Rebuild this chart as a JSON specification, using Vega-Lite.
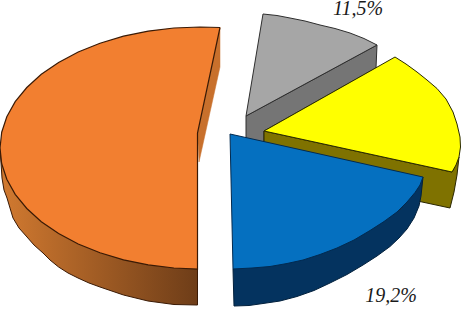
{"$schema":"https://vega.github.io/schema/vega-lite/v6.json","width":461,"height":309,"padding":0,"autosize":{"type":"none"},"background":"white","view":{"stroke":null},
"datasets":{"shapes":[
{"p":"graySide","i":0,"x":246,"y":116},{"p":"graySide","i":1,"x":377,"y":45},{"p":"graySide","i":2,"x":376,"y":68},{"p":"graySide","i":3,"x":264,"y":131},{"p":"graySide","i":4,"x":264,"y":145},{"p":"graySide","i":5,"x":246,"y":140},{"p":"graySide","i":6,"x":246,"y":116},
{"p":"grayTop","i":0,"x":246,"y":116},{"p":"grayTop","i":1,"x":263,"y":14},{"p":"grayTop","i":2,"x":277,"y":15.5},{"p":"grayTop","i":3,"x":290,"y":18},{"p":"grayTop","i":4,"x":305,"y":21},{"p":"grayTop","i":5,"x":320,"y":25},{"p":"grayTop","i":6,"x":335,"y":28.5},{"p":"grayTop","i":7,"x":350,"y":33},{"p":"grayTop","i":8,"x":364,"y":38.5},{"p":"grayTop","i":9,"x":377,"y":45},{"p":"grayTop","i":10,"x":246,"y":116},
{"p":"yellowSide","i":0,"x":264,"y":131},{"p":"yellowSide","i":1,"x":264,"y":168},{"p":"yellowSide","i":2,"x":450,"y":208},{"p":"yellowSide","i":3,"x":454,"y":192},{"p":"yellowSide","i":4,"x":457,"y":175},{"p":"yellowSide","i":5,"x":459,"y":157},{"p":"yellowSide","i":6,"x":452,"y":172},{"p":"yellowSide","i":7,"x":264,"y":131},
{"p":"yellowTop","i":0,"x":264,"y":131},{"p":"yellowTop","i":1,"x":395,"y":57},{"p":"yellowTop","i":2,"x":406,"y":64},{"p":"yellowTop","i":3,"x":417,"y":72},{"p":"yellowTop","i":4,"x":427,"y":80},{"p":"yellowTop","i":5,"x":437,"y":88.5},{"p":"yellowTop","i":6,"x":446,"y":99},{"p":"yellowTop","i":7,"x":453,"y":112},{"p":"yellowTop","i":8,"x":457,"y":124},{"p":"yellowTop","i":9,"x":460,"y":137},{"p":"yellowTop","i":10,"x":460.5,"y":147},{"p":"yellowTop","i":11,"x":459,"y":157},{"p":"yellowTop","i":12,"x":456,"y":165},{"p":"yellowTop","i":13,"x":452,"y":172},{"p":"yellowTop","i":14,"x":264,"y":131},
{"p":"orangeInner","i":0,"x":220,"y":27},{"p":"orangeInner","i":1,"x":220,"y":67},{"p":"orangeInner","i":2,"x":199,"y":162},{"p":"orangeInner","i":3,"x":197.5,"y":133},{"p":"orangeInner","i":4,"x":220,"y":27},
{"p":"orangeSide","i":0,"x":0,"y":148},{"p":"orangeSide","i":1,"x":2,"y":178},{"p":"orangeSide","i":2,"x":4,"y":190},{"p":"orangeSide","i":3,"x":7,"y":198},{"p":"orangeSide","i":4,"x":10,"y":208},{"p":"orangeSide","i":5,"x":13,"y":218},{"p":"orangeSide","i":6,"x":19,"y":228},{"p":"orangeSide","i":7,"x":27,"y":237},{"p":"orangeSide","i":8,"x":34,"y":245},{"p":"orangeSide","i":9,"x":43,"y":253},{"p":"orangeSide","i":10,"x":50,"y":260},{"p":"orangeSide","i":11,"x":58.6,"y":267},{"p":"orangeSide","i":12,"x":68,"y":273},{"p":"orangeSide","i":13,"x":78,"y":278},{"p":"orangeSide","i":14,"x":89,"y":283},{"p":"orangeSide","i":15,"x":100,"y":287},{"p":"orangeSide","i":16,"x":123.5,"y":295},{"p":"orangeSide","i":17,"x":148,"y":301},{"p":"orangeSide","i":18,"x":174,"y":304.5},{"p":"orangeSide","i":19,"x":197.5,"y":305},{"p":"orangeSide","i":20,"x":197.5,"y":269},{"p":"orangeSide","i":21,"x":100,"y":200},{"p":"orangeSide","i":22,"x":0,"y":148},
{"p":"orangeTop","i":0,"x":220,"y":27.5},{"p":"orangeTop","i":1,"x":200,"y":27},{"p":"orangeTop","i":2,"x":173.9,"y":28},{"p":"orangeTop","i":3,"x":148.2,"y":31.1},{"p":"orangeTop","i":4,"x":123.5,"y":36.2},{"p":"orangeTop","i":5,"x":100,"y":43.2},{"p":"orangeTop","i":6,"x":78.2,"y":52},{"p":"orangeTop","i":7,"x":58.6,"y":62.4},{"p":"orangeTop","i":8,"x":41.3,"y":74.3},{"p":"orangeTop","i":9,"x":26.8,"y":87.5},{"p":"orangeTop","i":10,"x":15.2,"y":101.7},{"p":"orangeTop","i":11,"x":6.8,"y":116.7},{"p":"orangeTop","i":12,"x":1.7,"y":132.2},{"p":"orangeTop","i":13,"x":0,"y":148},{"p":"orangeTop","i":14,"x":1.7,"y":163.8},{"p":"orangeTop","i":15,"x":6.8,"y":179.3},{"p":"orangeTop","i":16,"x":15.2,"y":194.3},{"p":"orangeTop","i":17,"x":26.8,"y":208.5},{"p":"orangeTop","i":18,"x":41.3,"y":221.7},{"p":"orangeTop","i":19,"x":58.6,"y":233.6},{"p":"orangeTop","i":20,"x":78.2,"y":244},{"p":"orangeTop","i":21,"x":100,"y":252.8},{"p":"orangeTop","i":22,"x":123.5,"y":259.8},{"p":"orangeTop","i":23,"x":148.2,"y":264.9},{"p":"orangeTop","i":24,"x":173.9,"y":268},{"p":"orangeTop","i":25,"x":197.5,"y":269},{"p":"orangeTop","i":26,"x":197.5,"y":133},{"p":"orangeTop","i":27,"x":220,"y":27.5},
{"p":"blueSide","i":0,"x":233,"y":269},{"p":"blueSide","i":1,"x":234,"y":306},{"p":"blueSide","i":2,"x":249,"y":305.5},{"p":"blueSide","i":3,"x":263,"y":303.5},{"p":"blueSide","i":4,"x":280,"y":301},{"p":"blueSide","i":5,"x":297,"y":296.5},{"p":"blueSide","i":6,"x":314,"y":290.5},{"p":"blueSide","i":7,"x":330,"y":283},{"p":"blueSide","i":8,"x":347,"y":274.5},{"p":"blueSide","i":9,"x":363,"y":265},{"p":"blueSide","i":10,"x":377,"y":256},{"p":"blueSide","i":11,"x":390,"y":246.5},{"p":"blueSide","i":12,"x":399,"y":238},{"p":"blueSide","i":13,"x":407,"y":229},{"p":"blueSide","i":14,"x":414,"y":218},{"p":"blueSide","i":15,"x":419,"y":206},{"p":"blueSide","i":16,"x":421,"y":196},{"p":"blueSide","i":17,"x":423,"y":177},{"p":"blueSide","i":18,"x":400,"y":210},{"p":"blueSide","i":19,"x":233,"y":269},
{"p":"blueTop","i":0,"x":230,"y":134},{"p":"blueTop","i":1,"x":423,"y":177},{"p":"blueTop","i":2,"x":420,"y":185},{"p":"blueTop","i":3,"x":415,"y":192.5},{"p":"blueTop","i":4,"x":407,"y":202},{"p":"blueTop","i":5,"x":397,"y":212},{"p":"blueTop","i":6,"x":384,"y":221.5},{"p":"blueTop","i":7,"x":370,"y":230.5},{"p":"blueTop","i":8,"x":354,"y":240},{"p":"blueTop","i":9,"x":337,"y":248},{"p":"blueTop","i":10,"x":320,"y":254.5},{"p":"blueTop","i":11,"x":303,"y":260},{"p":"blueTop","i":12,"x":287,"y":263.5},{"p":"blueTop","i":13,"x":270,"y":266.5},{"p":"blueTop","i":14,"x":252,"y":268},{"p":"blueTop","i":15,"x":233,"y":269},{"p":"blueTop","i":16,"x":230,"y":134}
],"labels":[{"x":358,"y":9,"label":"11,5%"},{"x":391,"y":296,"label":"19,2%"}]},
"encoding":{"x":{"field":"x","type":"quantitative","scale":{"domain":[0,461],"nice":false,"zero":false},"axis":null},"y":{"field":"y","type":"quantitative","scale":{"domain":[309,0],"nice":false,"zero":false},"axis":null},"order":{"field":"i","type":"quantitative"}},
"layer":[
{"data":{"name":"shapes"},"transform":[{"filter":"datum.p==='graySide'"}],"mark":{"type":"line","fill":"#757575","stroke":"#2e2e2e","strokeWidth":1}},
{"data":{"name":"shapes"},"transform":[{"filter":"datum.p==='grayTop'"}],"mark":{"type":"line","fill":"#a6a6a6","stroke":"#2e2e2e","strokeWidth":1}},
{"data":{"name":"shapes"},"transform":[{"filter":"datum.p==='yellowSide'"}],"mark":{"type":"line","fill":"#7f7200","stroke":"#2a2600","strokeWidth":1}},
{"data":{"name":"shapes"},"transform":[{"filter":"datum.p==='yellowTop'"}],"mark":{"type":"line","fill":"#ffff00","stroke":"#2a2a00","strokeWidth":1}},
{"data":{"name":"shapes"},"transform":[{"filter":"datum.p==='orangeInner'"}],"mark":{"type":"line","fill":"#c8702c","stroke":"#c8702c","strokeWidth":0.5}},
{"data":{"name":"shapes"},"transform":[{"filter":"datum.p==='orangeSide'"}],"mark":{"type":"line","fill":{"gradient":"linear","x1":0,"x2":1,"y1":0,"y2":0,"stops":[{"offset":0,"color":"#d27a30"},{"offset":1,"color":"#6e3d18"}]},"stroke":"#3a1a05","strokeWidth":1}},
{"data":{"name":"shapes"},"transform":[{"filter":"datum.p==='orangeTop'"}],"mark":{"type":"line","fill":"#f27f30","stroke":"#3a1a05","strokeWidth":1.2}},
{"data":{"name":"shapes"},"transform":[{"filter":"datum.p==='blueSide'"}],"mark":{"type":"line","fill":"#04335f","stroke":"#02203c","strokeWidth":1}},
{"data":{"name":"shapes"},"transform":[{"filter":"datum.p==='blueTop'"}],"mark":{"type":"line","fill":"#0570c0","stroke":"#022a50","strokeWidth":1}},
{"data":{"name":"labels"},"mark":{"type":"text","font":"Liberation Serif","fontStyle":"italic","fontSize":20,"align":"center","baseline":"middle","color":"#1a1a1a"},"encoding":{"x":{"field":"x","type":"quantitative"},"y":{"field":"y","type":"quantitative"},"text":{"field":"label","type":"nominal"},"order":{"value":0}}}
]}
